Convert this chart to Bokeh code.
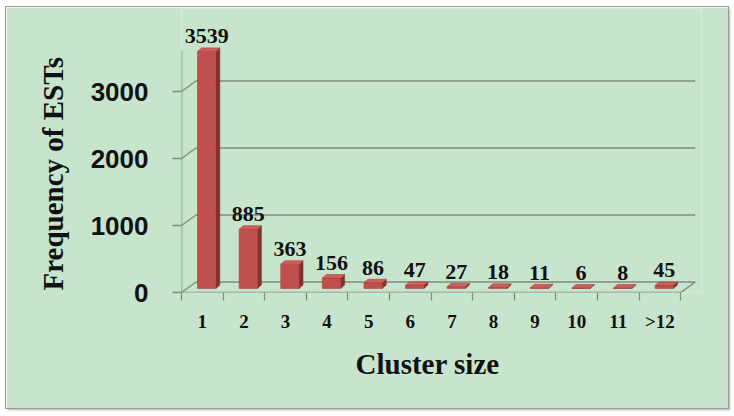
import numpy as np
from bokeh.plotting import figure
from bokeh.models import Range1d, FixedTicker, Title
from bokeh.embed import file_html
from bokeh.resources import INLINE

# ---- data ----
categories = ["1", "2", "3", "4", "5", "6", "7", "8", "9", "10", "11", ">12"]
frequency = [3539, 885, 363, 156, 86, 47, 27, 18, 11, 6, 8, 45]
y_ticks = [0, 1000, 2000, 3000]
y_title = "Frequency  of ESTs"
x_title = "Cluster size"

# ---- style / geometry ----
BG = "#C7E4CD"
GRID = "#7E8C80"
FRONT = "#C0504D"
SIDE = "#85302D"
TOPC = "#CF5F5B"
SERIF = "Liberation Serif"
SANS = "Liberation Sans"

W, H = 722, 401
FRAME_W, FRAME_H = 520, 284
PX_X = 41.6      # pixels per category
PX_Y = 0.067     # pixels per value unit
B_LEFT = 175
B_RIGHT = W - B_LEFT - FRAME_W
B_TOP = 1
B_BOTTOM = H - FRAME_H - B_TOP

# 3D offsets converted into data units
DX = 14.5 / PX_X        # depth shift of back wall (x)
DYW = 10.5 / PX_Y       # depth shift of back wall (y)
BAR_DX = 4.4 / PX_X     # bars sit mid-depth
BAR_DY = 4.0 / PX_Y
BAR_W = 18.3 / PX_X
SIDE_DX = 4.0 / PX_X
SIDE_DY = 3.5 / PX_Y

n = len(categories)
x = np.arange(1, n + 1, dtype=float)
vals = np.array(frequency, dtype=float)
x_lo, x_hi = 0.5, n + 0.5

p = figure(width=W, height=H,
           x_range=Range1d(x_lo, x_lo + FRAME_W / PX_X),
           y_range=Range1d(0, FRAME_H / PX_Y),
           output_backend="svg", toolbar_location=None,
           min_border_left=B_LEFT, min_border_right=B_RIGHT,
           min_border_top=B_TOP, min_border_bottom=B_BOTTOM,
           background_fill_color=BG, border_fill_color=BG,
           outline_line_color=None)
p.styles = {"margin-left": "6px", "margin-top": "7px",
            "outline": "1px solid #9a9a9a", "box-shadow": "2px 2px 2px #b0b0b0"}
p.xgrid.visible = False
p.ygrid.visible = False

# ---- back wall gridlines and floor ----
gt = np.array(y_ticks[1:], dtype=float)
p.segment(x0=np.full(len(gt), x_lo + DX), y0=gt + DYW,
          x1=np.full(len(gt), x_hi + DX), y1=gt + DYW,
          line_color=GRID, line_width=1.5)
at = np.array(y_ticks, dtype=float)
p.segment(x0=np.full(len(at), x_lo), y0=at,
          x1=np.full(len(at), x_lo + DX), y1=at + DYW,
          line_color=GRID, line_width=1.3)
# floor: back edge, front edge, right edge
p.segment(x0=[x_lo + DX, x_lo, x_hi], y0=[DYW, 0, 0],
          x1=[x_hi + DX, x_hi, x_hi + DX], y1=[DYW, 0, DYW],
          line_color=GRID, line_width=1.5)
# vertical value axis line
p.segment(x0=[x_lo], y0=[0], x1=[x_lo], y1=[vals.max() * 1.02],
          line_color=GRID, line_width=1.5)

# ---- 3D bars ----
xl = x + BAR_DX - BAR_W / 2
xr = x + BAR_DX + BAR_W / 2
bot = np.full(n, BAR_DY)
top = vals + BAR_DY
side_xs = [[a, a + SIDE_DX, a + SIDE_DX, a] for a in xr]
side_ys = [[b, b + SIDE_DY, t + SIDE_DY, t] for b, t in zip(bot, top)]
p.patches(xs=side_xs, ys=side_ys, fill_color=SIDE, line_color=SIDE, line_width=0.5)
p.vbar(x=x + BAR_DX, bottom=bot, top=top, width=BAR_W,
       fill_color=FRONT, line_color="#A8403D", line_width=0.6)
top_xs = [[a, b, b + SIDE_DX, a + SIDE_DX] for a, b in zip(xl, xr)]
top_ys = [[t, t, t + SIDE_DY, t + SIDE_DY] for t in top]
p.patches(xs=top_xs, ys=top_ys, fill_color=TOPC, line_color="#A8403D", line_width=0.6)

# ---- data labels ----
p.text(x=x + BAR_DX, y=top, text=[str(v) for v in frequency],
       text_align="center", text_baseline="bottom", y_offset=-8,
       text_font="Liberation Serif", text_font_style="bold",
       text_font_size="22px", text_color="#111111")

# ---- axes ----
xa = p.xaxis[0]
xa.ticker = FixedTicker(ticks=list(x), minor_ticks=list(np.arange(x_lo, x_hi + 0.01, 1.0)))
xa.major_label_overrides = {int(i): c for i, c in zip(x, categories)}
xa.axis_line_color = None
xa.major_tick_line_color = None
xa.major_tick_out = 0
xa.major_tick_in = 0
xa.minor_tick_line_color = GRID
xa.minor_tick_line_width = 1.2
xa.minor_tick_out = 8
xa.minor_tick_in = 0
xa.major_label_standoff = 10
xa.major_label_text_font = SERIF
xa.major_label_text_font_style = "bold"
xa.major_label_text_font_size = "19px"
xa.major_label_text_color = "#111111"

ya = p.yaxis[0]
ya.ticker = FixedTicker(ticks=y_ticks, minor_ticks=[])
ya.axis_line_color = None
ya.major_tick_line_color = GRID
ya.major_tick_line_width = 1.3
ya.major_tick_out = 9
ya.major_tick_in = 0
ya.minor_tick_line_color = None
ya.major_label_standoff = 24
ya.major_label_text_font = SANS
ya.major_label_text_font_style = "bold"
ya.major_label_text_font_size = "26px"
ya.major_label_text_color = "#111111"

p.add_layout(Title(text=y_title, align="left", offset=2, standoff=38,
                   text_font=SERIF, text_font_style="bold",
                   text_font_size="29px", text_color="#111111"), "left")
p.add_layout(Title(text=x_title, align="left", offset=174, standoff=22,
                   text_font=SERIF, text_font_style="bold",
                   text_font_size="29px", text_color="#111111"), "below")

open("out.html", "w").write(file_html(p, INLINE))
